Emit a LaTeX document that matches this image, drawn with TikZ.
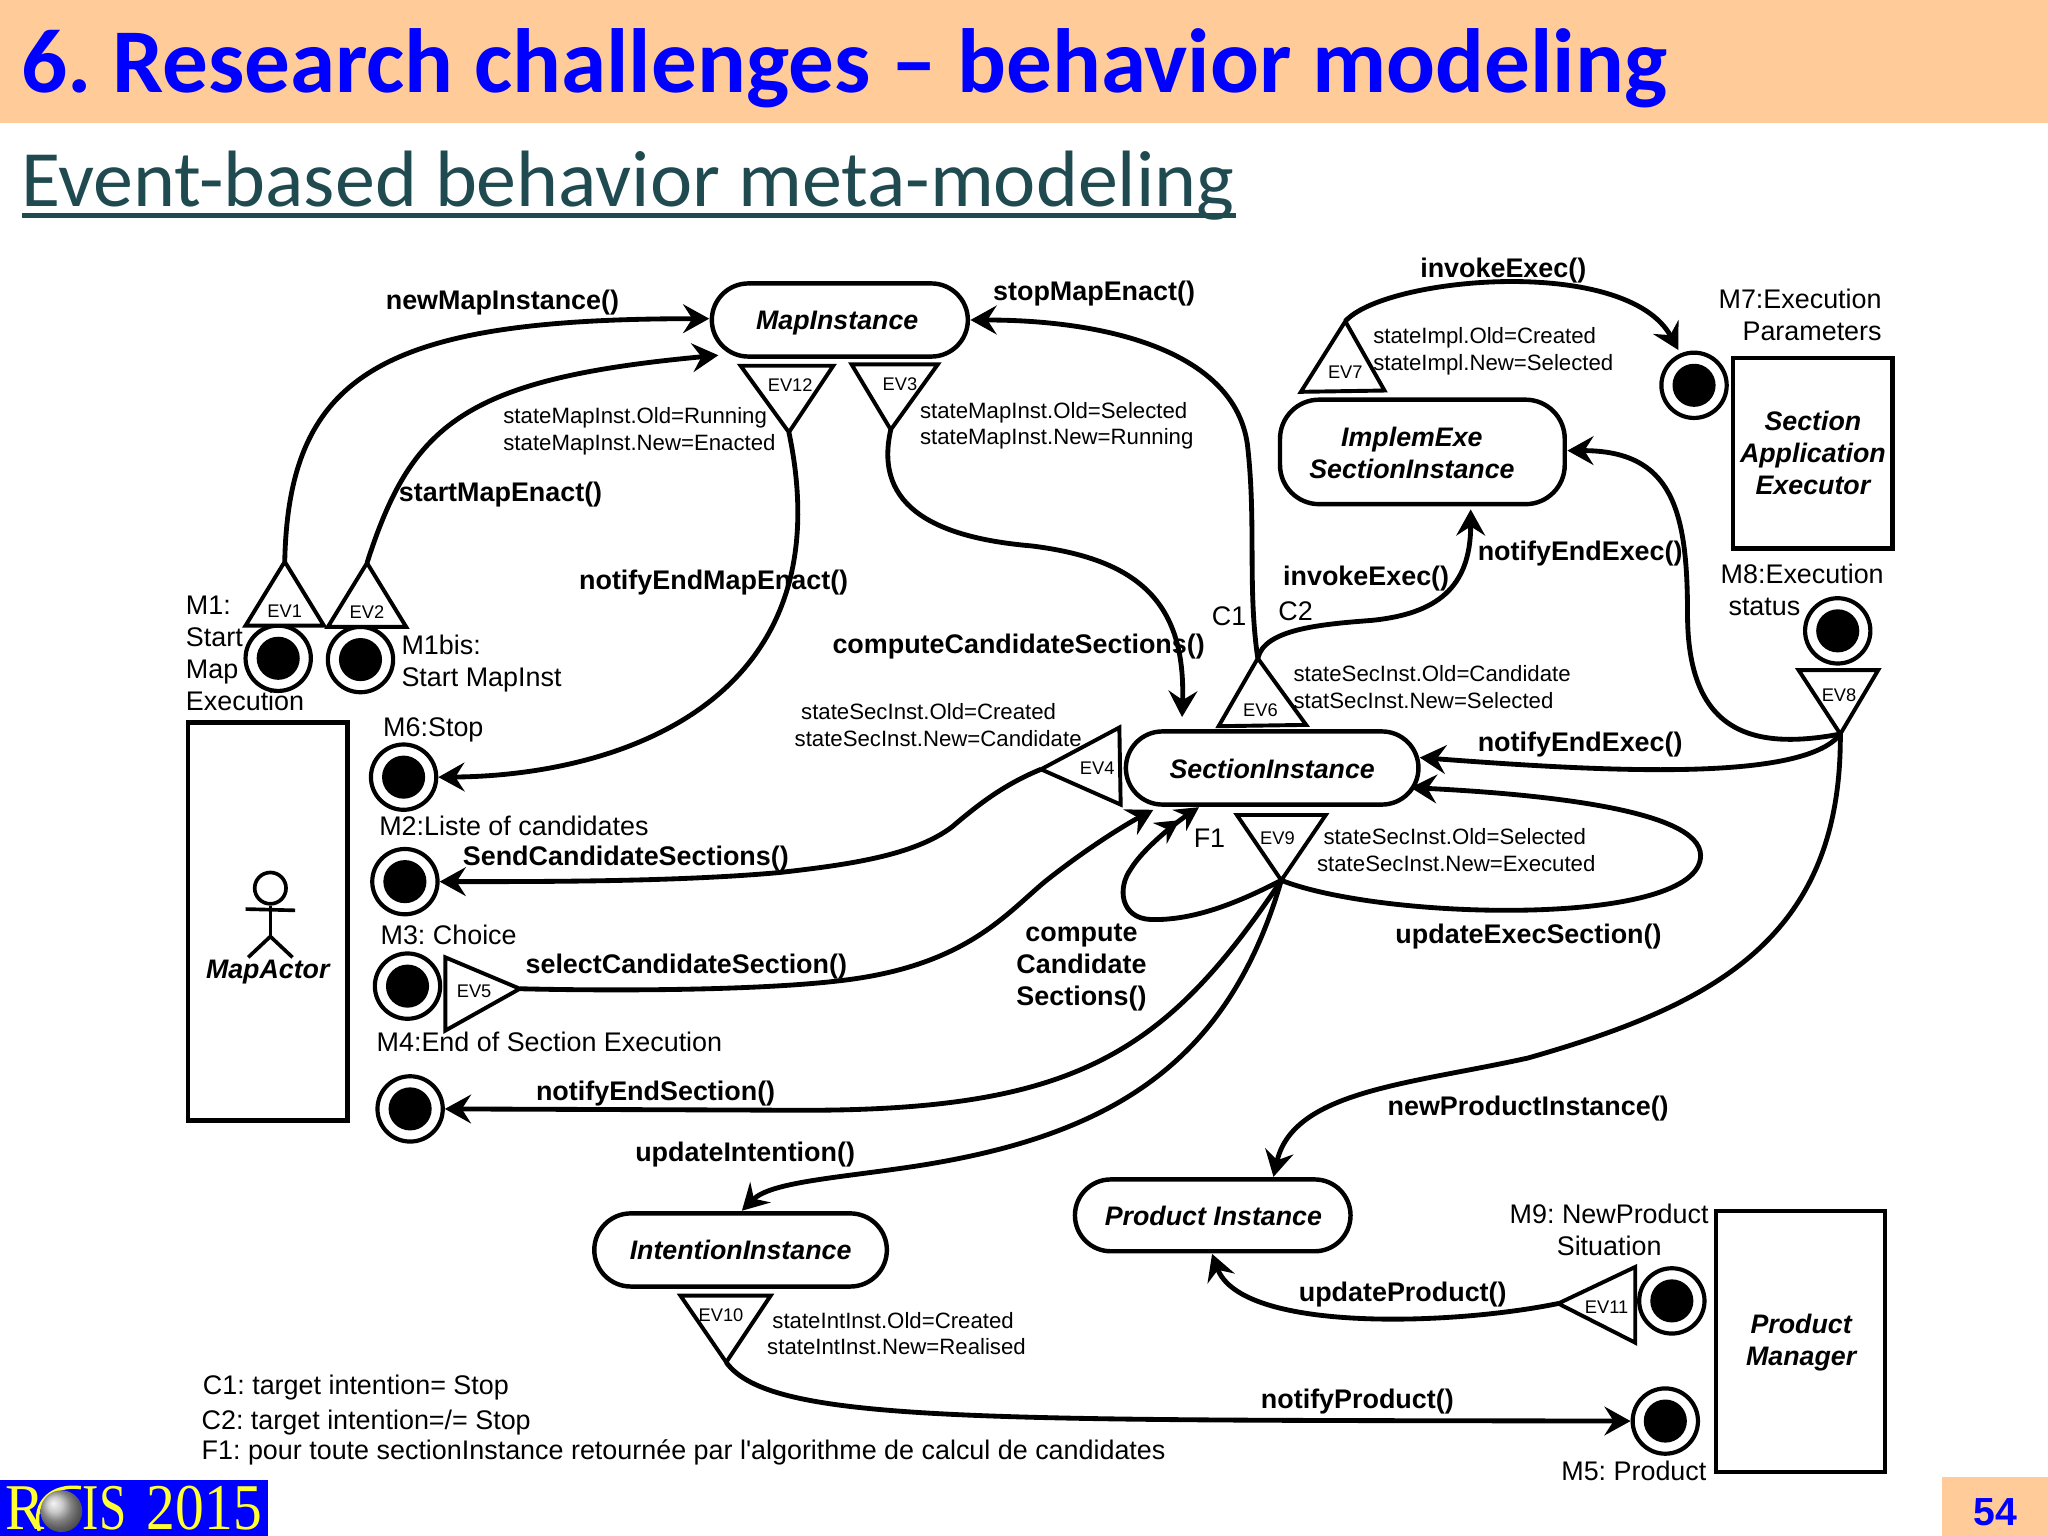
\documentclass[tikz,border=0pt]{standalone}
\usepackage{fontspec}
\usepackage{graphicx}
\setmainfont{Liberation Sans}
\newfontfamily\lsplain{Liberation Sans}
\newfontfamily\carlito{Carlito}
\newfontfamily\tnr{Liberation Serif}
\usetikzlibrary{arrows.meta,shapes.misc}
\definecolor{hdr}{HTML}{FFCC99}
\definecolor{teal}{HTML}{1F4A50}
\definecolor{ttl}{HTML}{0000FF}
\definecolor{ylw}{HTML}{FFFF33}
\tikzset{
  lab/.style={inner sep=0pt,font=\fontsize{10.3}{12.25}\selectfont,align=left,anchor=west,yshift=-1pt},
  smalllab/.style={inner sep=0pt,font=\fontsize{8.5}{10.3}\selectfont,align=left,anchor=west,yshift=-1pt},
  oper/.style={inner sep=0pt,font=\fontsize{10.3}{12.25}\selectfont\bfseries,align=center,anchor=mid west,yshift=-1pt},
  evlabel/.style={inner sep=0pt,font=\fontsize{7}{8}\selectfont},
  ent/.style={inner sep=0pt,font=\fontsize{10.25}{12.25}\selectfont\bfseries\itshape,align=center},
  box/.style={draw,line width=1.7pt,inner sep=0pt},
  pill/.style={rounded rectangle,draw,line width=1.7pt,inner sep=0pt,fill=white},
  tri/.style={draw,line width=1.5pt,line join=miter,fill=white},
  msgring/.style={circle,draw,line width=1.6pt,minimum size=25pt,inner sep=0pt,fill=white},
  msgdot/.style={circle,fill=black,minimum size=16.5pt,inner sep=0pt},
  conn/.style={line width=1.85pt,-{Stealth[length=10pt,width=11pt,inset=3.5pt]}},
  conntwo/.style={line width=1.85pt,-{Stealth[length=9pt,width=9.5pt,inset=3pt]Stealth[length=9pt,width=9.5pt,inset=3pt]}},
  logotext/.style={inner sep=0pt,anchor=base west,text=ylw,font=\fontsize{25}{28}\selectfont\tnr},
}
\newcommand{\evtri}[6]{\coordinate (#1) at (#2);\draw[tri] (#1) -- (#3) -- (#4) -- cycle;\node[evlabel] (#1l) at (#5) {#6};}
\newcommand{\msgcirc}[2]{\node[msgring] (#1) at (#2) {};\node[msgdot] (#1d) at (#2) {};}
\begin{document}
\frenchspacing
\begin{tikzpicture}[x=0.5pt,y=-0.5pt]
\useasboundingbox (0,0) rectangle (1568,1176);
\fill[white] (0,0) rectangle (1568,1176);
% header
\fill[hdr] (0,0) rectangle (1568,94);
\node[inner sep=0pt,anchor=base west,text=ttl,font=\fontsize{34.9}{40}\selectfont\carlito\bfseries] (title) at (16,71) {6. Research challenges – behavior modeling};
\node[inner sep=0pt,anchor=base west,text=teal,font=\fontsize{30.6}{38}\selectfont\carlito] (subtitle) at (16,158) {Event-based behavior meta-modeling};
\coordinate (ulA) at (17,165);
\coordinate (ulB) at (946,165);
\draw[teal,line width=1.8pt] (ulA) -- (ulB);
% boxes
\node[box,minimum width=61pt,minimum height=152.5pt] (actor) at (205,705.5) {};
\node[box,minimum width=61pt,minimum height=73pt] (executor) at (1388,347) {};
\node[box,minimum width=64.5pt,minimum height=100pt] (manager) at (1378.5,1027) {};
\node[ent] (actorl) at (205,744) {MapActor};
\node[ent] (executorl) at (1388,347) {Section\\Application\\Executor};
\node[ent] (managerl) at (1379,1028) {Product\\Manager};
% stick figure
\node[circle,draw,line width=1.4pt,minimum size=12pt,inner sep=0pt] (head) at (207,680) {};
\coordinate (hip) at (207,717);
\coordinate (armL) at (188,696);
\coordinate (armR) at (226,697);
\coordinate (legL) at (190,733);
\coordinate (legR) at (224,733);
\draw[line width=1.4pt] (head.south) -- (hip);
\draw[line width=1.4pt] (armL) -- (armR);
\draw[line width=1.4pt] (legL) -- (hip) -- (legR);
% entities
\node[pill,minimum width=98pt,minimum height=28pt] (mapinst) at (643,245) {};
\node[ent] (mapinstl) at (641,247) {MapInstance};
\node[pill,minimum width=112pt,minimum height=28pt] (secinst) at (974,588) {};
\node[ent] (secinstl) at (974,589) {SectionInstance};
\node[pill,minimum width=112pt,minimum height=28pt] (intent) at (567,957) {};
\node[ent] (intentl) at (567,957) {IntentionInstance};
\node[pill,minimum width=105.5pt,minimum height=27.5pt] (prod) at (928.5,930.5) {};
\node[ent] (prodl) at (929,931) {Product Instance};
\node[draw,line width=1.7pt,rounded corners=15pt,minimum width=109pt,minimum height=40pt,inner sep=0pt] (impl) at (1089,346) {};
\node[ent] (impll) at (1081,347) {ImplemExe\\SectionInstance};
% messages
\msgcirc{m1}{213,504}
\msgcirc{m1b}{276,505}
\msgcirc{m6}{309,595}
\msgcirc{m2}{310,675}
\msgcirc{m3}{312,755}
\msgcirc{m4}{314,849}
\msgcirc{m7}{1297,295}
\msgcirc{m8}{1407,483}
\msgcirc{m9}{1280,996}
\msgcirc{m5}{1275,1088}
% end points
\coordinate (mapW) at (543,244);
\coordinate (mapSW) at (550,272);
\coordinate (mapE) at (743,245);
\coordinate (secN) at (905,549);
\coordinate (secE) at (1087,580);
\coordinate (secE2) at (1080,603);
\coordinate (secS1) at (883,620);
\coordinate (secS2) at (918,618);
\coordinate (implS) at (1126,390);
\coordinate (implE) at (1200,345);
\coordinate (m7in) at (1285,268);
\coordinate (prodN) at (975,901);
\coordinate (prodS) at (928,960);
\coordinate (intN) at (568,927);
% connectors
\draw[conn] (218,430) coordinate (ev1c) .. controls (221,285) and (295,244) .. (mapW);
\draw[conn] (281,431) coordinate (ev2c) .. controls (315,325) and (355,290) .. (mapSW);
\draw[conn] (604,331) coordinate (ev12c) .. controls (648,540) and (470,594) .. (m6.east);
\draw[conn] (682,329) coordinate (ev3c) .. controls (668,390) and (720,412) .. (790,418) .. controls (870,428) and (908,460) .. (secN);
\draw[conn] (963,504) coordinate (ev6c) .. controls (955,450) and (962,400) .. (955,340) .. controls (945,270) and (850,245) .. (mapE);
\draw[conn] (ev6c) .. controls (968,482) and (1010,478) .. (1050,475) .. controls (1100,470) and (1126,450) .. (implS);
\draw[conn] (1030,246) coordinate (ev7c) .. controls (1060,212) and (1245,195) .. (m7in);
\draw[conn] (1409,562) coordinate (ev8c) .. controls (1340,575) and (1292,560) .. (1292,470) .. controls (1292,390) and (1280,345) .. (implE);
\draw[conn] (ev8c) .. controls (1380,600) and (1220,590) .. (secE);
\draw[conn] (ev8c) .. controls (1410,720) and (1310,770) .. (1170,810) .. controls (1080,830) and (990,835) .. (prodN);
\draw[conn] (797,589) coordinate (ev4c) .. controls (770,600) and (750,615) .. (729,633) .. controls (700,655) and (650,662) .. (597,668) .. controls (520,675) and (420,675) .. (m2.east);
\draw[conn] (398,757) coordinate (ev5c) .. controls (480,759) and (590,758) .. (650,750) .. controls (740,738) and (770,700) .. (800,675) .. controls (825,655) and (855,635) .. (secS1);
\draw[conntwo] (981,674) coordinate (ev9c) .. controls (950,690) and (915,705) .. (881,704) .. controls (858,703) and (855,680) .. (866,665) .. controls (875,650) and (900,630) .. (secS2);
\draw[conn] (ev9c) .. controls (1060,705) and (1302,710) .. (1302,655) .. controls (1302,620) and (1180,608) .. (secE2);
\draw[conn] (ev9c) .. controls (890,810) and (820,852) .. (600,850) -- (m4.east);
\draw[conn] (ev9c) .. controls (940,815) and (850,870) .. (700,893) .. controls (640,902) and (590,905) .. (intN);
\draw[conn] (1193,998) coordinate (ev11c) .. controls (1110,1015) and (950,1020) .. (prodS);
\draw[conn] (556,1043) coordinate (ev10c) .. controls (590,1090) and (750,1087) .. (m5.west);
% triangles
\evtri{ev1}{218,430}{188,479}{248,479}{218,468}{EV1}
\evtri{ev2}{281,431}{251,480}{311,480}{281,469}{EV2}
\evtri{ev12}{604,331}{567,280}{638,280}{605,295}{EV12}
\evtri{ev3}{682,329}{652,279}{718,279}{689,294}{EV3}
\evtri{ev4}{797,589}{857,557}{858,616}{840,588}{EV4}
\evtri{ev5}{398,757}{341,733}{341,789}{363,759}{EV5}
\evtri{ev6}{963,504}{933,556}{1000,555}{965,544}{EV6}
\evtri{ev7}{1030,246}{996,300}{1060,299}{1030,285}{EV7}
\evtri{ev8}{1409,562}{1377,513}{1438,513}{1408,532}{EV8}
\evtri{ev9}{981,674}{947,624}{1015,624}{978,642}{EV9}
\evtri{ev10}{556,1043}{521,992}{590,992}{552,1007}{EV10}
\evtri{ev11}{1193,998}{1252,970}{1252,1028}{1230,1001}{EV11}
% operation labels
\node[oper] (o1) at (295,230) {newMapInstance()};
\node[oper] (o2) at (760,223) {stopMapEnact()};
\node[oper] (o3) at (1087,205) {invokeExec()};
\node[oper] (o4) at (305,377) {startMapEnact()};
\node[oper] (o5) at (1131,422) {notifyEndExec()};
\node[oper] (o6) at (443,444) {notifyEndMapEnact()};
\node[oper] (o7) at (982,441) {invokeExec()};
\node[oper] (o8) at (637,493) {computeCandidateSections()};
\node[oper] (o9) at (1131,568) {notifyEndExec()};
\node[oper] (o10) at (354,655) {SendCandidateSections()};
\node[oper] (o11) at (1068,715) {updateExecSection()};
\node[oper] (o12) at (402,738) {selectCandidateSection()};
\node[oper,anchor=center] (o13) at (828,739) {compute\\Candidate\\Sections()};
\node[oper] (o14) at (410,835) {notifyEndSection()};
\node[oper] (o15) at (1062,847) {newProductInstance()};
\node[oper] (o16) at (486,882) {updateIntention()};
\node[oper] (o17) at (994,989) {updateProduct()};
\node[oper] (o18) at (965,1071) {notifyProduct()};
% message labels
\node[lab] (t1) at (142,498) {M1:\\Start\\Map\\Execution};
\node[lab] (t2) at (307,506) {M1bis:\\Start MapInst};
\node[lab] (t3) at (293,557) {M6:Stop};
\node[lab] (t4) at (290,630) {M2:Liste of candidates};
\node[lab] (t5) at (291,714) {M3: Choice};
\node[lab] (t6) at (288,796) {M4:End of Section Execution};
\node[lab,align=right,anchor=east] (t7) at (1441,239) {M7:Execution\\Parameters};
\node[lab] (t8) at (1317,450) {M8:Execution\\\hspace*{3pt}status};
\node[lab,align=center,anchor=center] (t9) at (1232,940) {M9: NewProduct\\Situation};
\node[lab] (t10) at (1195,1124) {M5: Product};
\node[lab,anchor=center] (c1l) at (941,470) {C1};
\node[lab,anchor=center] (c2l) at (992,466) {C2};
\node[lab,anchor=center] (f1l) at (926,640) {F1};
% state labels
\node[smalllab] (s1) at (385,328) {stateMapInst.Old=Running\\stateMapInst.New=Enacted};
\node[smalllab] (s2) at (704,324) {stateMapInst.Old=Selected\\stateMapInst.New=Running};
\node[smalllab] (s3) at (1051,267) {stateImpl.Old=Created\\stateImpl.New=Selected};
\node[smalllab] (s4) at (990,524) {stateSecInst.Old=Candidate\\statSecInst.New=Selected};
\node[smalllab] (s5) at (608,553) {\hspace*{2.5pt}stateSecInst.Old=Created\\stateSecInst.New=Candidate};
\node[smalllab] (s6) at (1008,649) {\hspace*{2.5pt}stateSecInst.Old=Selected\\stateSecInst.New=Executed};
\node[smalllab] (s7) at (587,1019) {\hspace*{2pt}stateIntInst.Old=Created\\stateIntInst.New=Realised};
% legend
\node[lab] (c1t) at (155,1060) {C1: target intention= Stop};
\node[lab] (c2t) at (154,1087) {C2: target intention=/= Stop};
\node[lab] (f1t) at (154,1110) {F1: pour toute sectionInstance retournée par l{\lsplain '}algorithme de calcul de candidates};
% footer
\fill[ttl] (0,1133) rectangle (205,1176);
\node[logotext] (logoR) at (4,1171) {\scalebox{.9}[1]{R}};
\coordinate (crA) at (62,1139);
\coordinate (crB) at (30,1172);
\draw[ylw,line width=1.3pt] (crA) .. controls (40,1136) and (24,1150) .. (crB);
\shade[ball color=gray!55!white] (47,1157) circle (8pt);
\node[logotext] (logoI) at (63,1171) {\scalebox{.75}[1]{IS}};
\node[logotext] (logoY) at (112,1171) {\scalebox{.88}[1]{2015}};
\fill[hdr] (1487,1131) rectangle (1568,1176);
\node[inner sep=0pt,text=ttl,font=\fontsize{15}{18}\selectfont\bfseries] (page) at (1528,1158) {54};
\end{tikzpicture}
\end{document}
